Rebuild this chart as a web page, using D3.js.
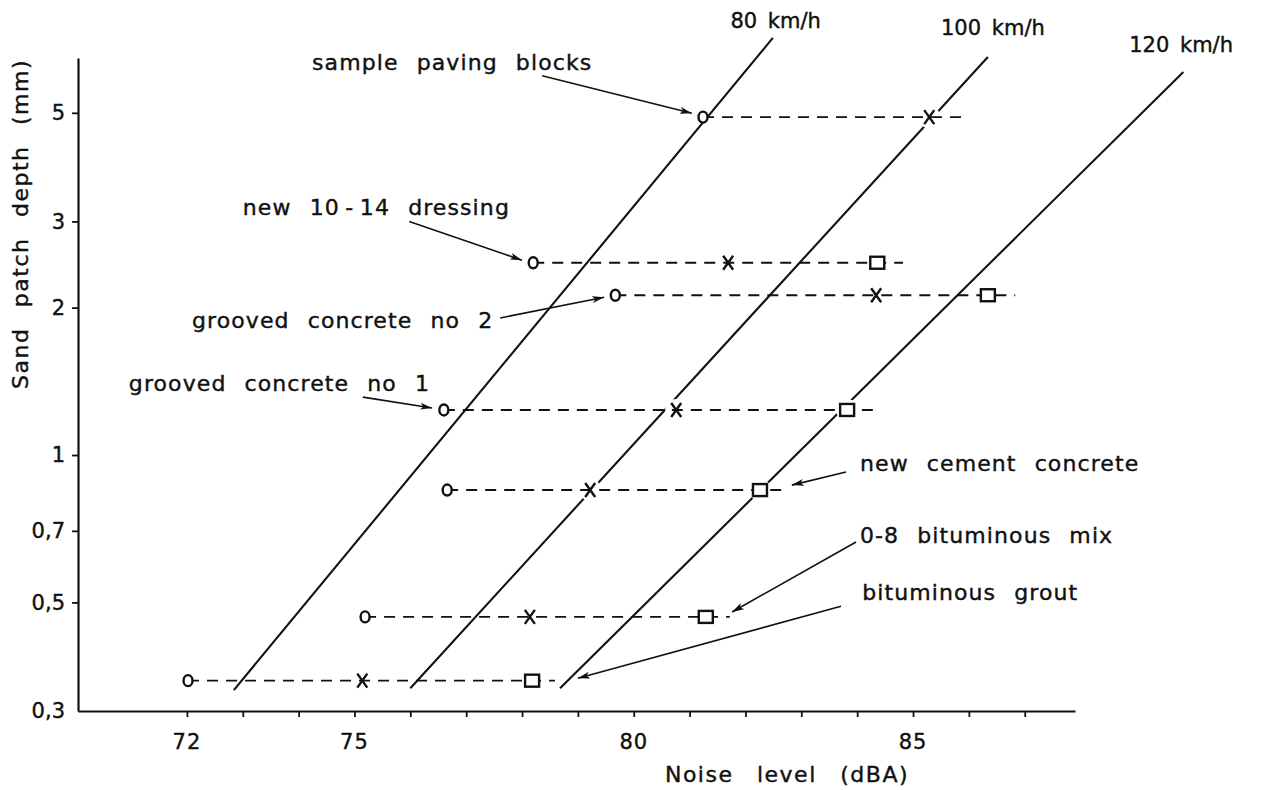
<!DOCTYPE html>
<html>
<head>
<meta charset="utf-8">
<script src="https://cdn.jsdelivr.net/npm/d3@7"></script>
<style>
  body { margin: 0; background: #fff; }
  text { font-family: "DejaVu Sans", sans-serif; fill: #111; stroke: #111; stroke-width: 0.4px; }
</style>
</head>
<body>
<div id="chart"></div>
<script>
// noise level (dBA) x sand patch depth (mm)
const xTicks = [72, 73, 74, 75, 76, 77, 78, 79, 80, 81, 82, 83, 84, 85, 86, 87];
const xTickLabels = [72, 75, 80, 85];
const yTicks = [0.3, 0.5, 0.7, 1, 2, 3, 5];
const yTickLabels = ["0,3", "0,5", "0,7", "1", "2", "3", "5"];

// surfaces: depth, noise at 80 / 100 / 120 km/h, end of dashed line
const surfaces = ["sample paving blocks", "new 10-14 dressing", "grooved concrete no 2", "grooved concrete no 1",
                  "new cement concrete", "0-8 bituminous mix", "bituminous grout"];
const depth = [4.9, 2.47, 2.12, 1.236, 0.848, 0.467, 0.346];
const noise80 = [81.24, 78.2, 79.67, 76.6, 76.66, 75.19, 72.02];
const noise100 = [85.29, 81.69, 84.34, 80.76, 79.22, 78.14, 75.14];
const noise120 = [null, 84.36, 86.34, 83.82, 82.26, 81.29, 78.18];
const dashEnd = [85.99, 84.82, 86.83, 84.28, 82.71, 81.72, 78.59];

// speed lines [noise, depth] at both ends
const speeds = ["80 km/h", "100 km/h", "120 km/h"];
const speedLines = [
  [[72.84, 0.331], [82.49, 7.11]],
  [[76.0, 0.334], [86.34, 6.50]],
  [[78.68, 0.334], [89.84, 6.06]]
];
const speedLabelPos = [[82.54, 7.73], [86.43, 7.45], [89.8, 6.88]];

// annotation text start and arrow (from, to)
const labels = ["sample paving blocks", "new 10\u2009-\u200914 dressing", "grooved concrete no 2", "grooved concrete no 1",
                "new cement concrete", "0-8 bituminous mix", "bituminous grout"];
const labelPos = [[74.24, 6.35], [73.0, 3.21], [72.09, 1.887], [70.96, 1.403], [84.05, 0.963], [84.05, 0.686], [84.09, 0.525]];
const arrows = [
  [[78.36, 5.95], [81.04, 4.99]],
  [[75.98, 3.0], [78.0, 2.50]],
  [[77.61, 1.905], [79.47, 2.10]],
  [[75.15, 1.313], [76.39, 1.247]],
  [[83.8, 0.923], [82.83, 0.868]],
  [[83.98, 0.664], [81.76, 0.478]],
  [[83.71, 0.491], [79.0, 0.350]]
];

const width = 1281, height = 790;
const ink = "#111";

const svg = d3.select("#chart").append("svg")
    .attr("width", width)
    .attr("height", height);

const x = d3.scaleLinear().domain([70.05, 87.9]).range([78, 1075]);
const y = d3.scaleLog().domain([0.3, 6.47]).range([711, 58]);

svg.append("defs").append("marker")
    .attr("id", "head")
    .attr("viewBox", "0 0 12 8")
    .attr("refX", 12).attr("refY", 4)
    .attr("markerWidth", 12).attr("markerHeight", 8)
    .attr("markerUnits", "userSpaceOnUse")
    .attr("orient", "auto")
  .append("path")
    .attr("d", "M0,0.5L12,4L0,7.5L3,4Z")
    .attr("fill", ink);

// axes
const xAxis = svg.append("g")
    .attr("transform", `translate(0,${y.range()[0]})`)
    .call(d3.axisBottom(x).tickValues(xTicks).tickSize(6).tickSizeOuter(0).tickFormat(""));
xAxis.select(".domain").attr("stroke", ink).attr("stroke-width", 2.2);
xAxis.selectAll(".tick line").attr("stroke", ink).attr("stroke-width", 1.8);

svg.append("g").selectAll("text")
    .data(xTickLabels)
    .enter().append("text")
    .attr("x", d => x(d))
    .attr("y", 742)
    .attr("dy", "0.35em")
    .attr("text-anchor", "middle")
    .attr("font-size", 21)
    .attr("letter-spacing", 1)
    .text(d => d);

const yAxis = svg.append("g")
    .attr("transform", `translate(${x.range()[0]},0)`)
    .call(d3.axisLeft(y).tickValues(yTicks.slice(1)).tickSize(6).tickSizeOuter(0).tickFormat(""));
yAxis.select(".domain").attr("stroke", ink).attr("stroke-width", 2.2);
yAxis.selectAll(".tick line").attr("stroke", ink).attr("stroke-width", 1.8);

svg.append("g").selectAll("text")
    .data(yTicks)
    .enter().append("text")
    .attr("x", 65)
    .attr("y", d => y(d))
    .attr("dy", "0.35em")
    .attr("text-anchor", "end")
    .attr("font-size", 21)
    .text((d, i) => yTickLabels[i]);

svg.append("text")
    .attr("transform", "translate(20,224) rotate(-90)")
    .attr("text-anchor", "middle")
    .attr("dy", "0.35em")
    .attr("font-size", 22)
    .attr("letter-spacing", 1.5)
    .attr("word-spacing", 12)
    .text("Sand patch depth (mm)");

svg.append("text")
    .attr("x", 787)
    .attr("y", 774)
    .attr("text-anchor", "middle")
    .attr("dy", "0.35em")
    .attr("font-size", 22)
    .attr("letter-spacing", 1.5)
    .attr("word-spacing", 15)
    .text("Noise level (dBA)");

// speed lines
const line = d3.line().x(d => x(d[0])).y(d => y(d[1]));
svg.append("g").selectAll("path")
    .data(speedLines)
    .enter().append("path")
    .attr("d", line)
    .attr("fill", "none")
    .attr("stroke", ink)
    .attr("stroke-width", 2.1);

svg.append("g").selectAll("text")
    .data(speeds)
    .enter().append("text")
    .attr("x", (d, i) => x(speedLabelPos[i][0]))
    .attr("y", (d, i) => y(speedLabelPos[i][1]))
    .attr("dy", "0.35em")
    .attr("text-anchor", "middle")
    .attr("font-size", 21)
    .attr("word-spacing", 4)
    .text(d => d);

// white gaps in the speed lines around x and square markers
const rows = surfaces.map((s, i) => ({
  name: s, depth: depth[i], o: noise80[i], x: noise100[i], sq: noise120[i], end: dashEnd[i]
}));
svg.append("g").selectAll("circle")
    .data(rows.flatMap(r => [r.x, r.sq].filter(v => v !== null).map(v => [v, r.depth])))
    .enter().append("circle")
    .attr("cx", d => x(d[0]))
    .attr("cy", d => y(d[1]))
    .attr("r", 11)
    .attr("fill", "#fff");

// dashed rows
svg.append("g").selectAll("line")
    .data(rows)
    .enter().append("line")
    .attr("x1", d => x(d.o))
    .attr("x2", d => x(d.end))
    .attr("y1", d => y(d.depth))
    .attr("y2", d => y(d.depth))
    .attr("stroke", ink)
    .attr("stroke-width", 1.9)
    .attr("stroke-dasharray", "11,8");

// markers
const markers = svg.append("g");
markers.selectAll("rect")
    .data(rows.filter(r => r.sq !== null))
    .enter().append("rect")
    .attr("x", d => x(d.sq) - 7)
    .attr("y", d => y(d.depth) - 6)
    .attr("width", 14)
    .attr("height", 12)
    .attr("fill", "#fff")
    .attr("stroke", ink)
    .attr("stroke-width", 2.4);

markers.selectAll("ellipse")
    .data(rows)
    .enter().append("ellipse")
    .attr("cx", d => x(d.o))
    .attr("cy", d => y(d.depth))
    .attr("rx", 4.5)
    .attr("ry", 5.5)
    .attr("fill", "#fff")
    .attr("stroke", ink)
    .attr("stroke-width", 2.4);

markers.selectAll("path")
    .data(rows)
    .enter().append("path")
    .attr("d", d => {
      const cx = x(d.x), cy = y(d.depth);
      return `M${cx - 5},${cy - 7}L${cx + 5},${cy + 7}M${cx + 5},${cy - 7}L${cx - 5},${cy + 7}`;
    })
    .attr("fill", "none")
    .attr("stroke", ink)
    .attr("stroke-width", 2.4);

// annotations
svg.append("g").selectAll("text")
    .data(labels)
    .enter().append("text")
    .attr("x", (d, i) => x(labelPos[i][0]))
    .attr("y", (d, i) => y(labelPos[i][1]))
    .attr("dy", "0.35em")
    .attr("font-size", 22)
    .attr("letter-spacing", 1.1)
    .attr("word-spacing", 10)
    .text(d => d);

svg.append("g").selectAll("line")
    .data(arrows)
    .enter().append("line")
    .attr("x1", d => x(d[0][0]))
    .attr("y1", d => y(d[0][1]))
    .attr("x2", d => x(d[1][0]))
    .attr("y2", d => y(d[1][1]))
    .attr("stroke", ink)
    .attr("stroke-width", 1.6)
    .attr("marker-end", "url(#head)");
</script>
</body>
</html>
